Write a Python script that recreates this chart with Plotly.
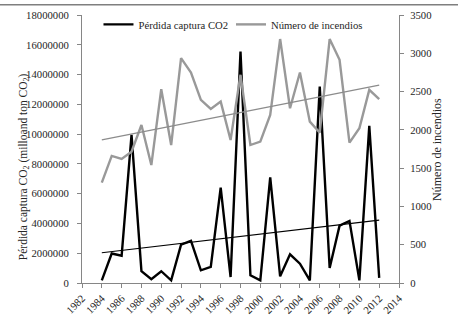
import numpy as np
import plotly.graph_objects as go

# Annual series, 1984-2012
years = list(range(1984, 2013))
perdida_co2 = [
    180000, 1980000, 1830000, 9950000, 790000, 250000, 790000, 180000,
    2580000, 2830000, 850000, 1080000, 6400000, 400000, 15550000, 520000,
    180000, 7100000, 450000, 1930000, 1300000, 180000, 13200000, 1010000,
    3850000, 4170000, 180000, 10550000, 340000,
]
num_incendios = [
    1310, 1660, 1620, 1715, 2064, 1540, 2531, 1802, 2937, 2749,
    2391, 2273, 2369, 1868, 2719, 1802, 1846, 2195, 3186, 2282,
    2749, 2107, 1963, 3186, 2915, 1833, 2021, 2522, 2400,
]

x_ticks = list(range(1982, 2015, 2))
left_ticks = list(range(0, 18000001, 2000000))
right_ticks = list(range(0, 3501, 500))

FONT = "Liberation Serif"
AXIS_COLOR = "#868686"
TEXT_COLOR = "#262626"


def linear_trend(xs, ys):
    slope, intercept = np.polyfit(xs, ys, 1)
    ends = [xs[0], xs[-1]]
    return ends, [slope * e + intercept for e in ends]


fig = go.Figure()

fig.add_trace(go.Scatter(
    x=years, y=perdida_co2, mode="lines", name="Pérdida captura CO2",
    line=dict(color="#000000", width=2.4), legend="legend",
))
fig.add_trace(go.Scatter(
    x=years, y=num_incendios, mode="lines", name="Número de incendios",
    line=dict(color="#999999", width=2.4), yaxis="y2", legend="legend2",
))

tx, ty = linear_trend(years, perdida_co2)
fig.add_trace(go.Scatter(x=tx, y=ty, mode="lines", showlegend=False,
                         line=dict(color="#000000", width=1.1)))
tx2, ty2 = linear_trend(years, num_incendios)
fig.add_trace(go.Scatter(x=tx2, y=ty2, mode="lines", showlegend=False, yaxis="y2",
                         line=dict(color="#8c8c8c", width=1.3)))

tickfont = dict(family=FONT, size=10.7, color=TEXT_COLOR)
axis_common = dict(showgrid=False, zeroline=False, showline=True, linecolor=AXIS_COLOR,
                   linewidth=1, ticks="outside", tickcolor=AXIS_COLOR, ticklen=4,
                   tickfont=tickfont, automargin=False)

legend_common = dict(orientation="h", xanchor="left", yanchor="middle",
                     bgcolor="rgba(0,0,0,0)", font=dict(family=FONT, size=10.7, color=TEXT_COLOR),
                     itemwidth=30, tracegroupgap=0)

fig.update_layout(
    width=458, height=320,
    margin=dict(l=82, r=59, t=15, b=37, autoexpand=False),
    paper_bgcolor="white", plot_bgcolor="white",
    font=dict(family=FONT, color=TEXT_COLOR),
    xaxis=dict(range=[1982, 2014], tickvals=x_ticks, tickangle=-45, **axis_common),
    yaxis=dict(range=[0, 18000000], tickvals=left_ticks, tickformat="d",
               ticklabelstandoff=6, **axis_common),
    yaxis2=dict(range=[0, 3500], tickvals=right_ticks, overlaying="y", side="right",
                ticklabelstandoff=4, **axis_common),
    legend=dict(x=0.052, y=0.965, **legend_common),
    legend2=dict(x=0.47, y=0.965, **legend_common),
    shapes=[dict(type="line", xref="paper", yref="paper", x0=-0.26, x1=1.19,
                 y0=1.038, y1=1.038, line=dict(color="#7f7f7f", width=1.5))],
    annotations=[
        dict(text="Pérdida captura CO<sub>2</sub> (milloand ton CO<sub>2</sub>)",
             xref="paper", yref="paper", x=-0.213, y=0.434, textangle=-90,
             showarrow=False, font=dict(family=FONT, size=11.5, color=TEXT_COLOR)),
        dict(text="Número de incendios", xref="paper", yref="paper", x=1.148, y=0.5,
             textangle=-90, showarrow=False,
             font=dict(family=FONT, size=12, color=TEXT_COLOR)),
    ],
)

fig.write_html("out.html")
